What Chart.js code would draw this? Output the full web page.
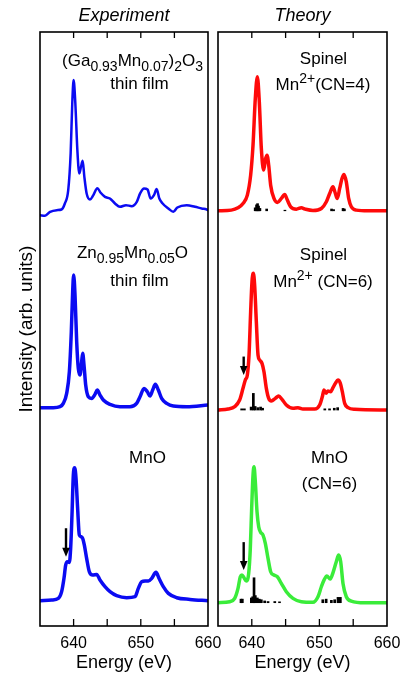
<!DOCTYPE html>
<html><head><meta charset="utf-8">
<script src="https://cdn.jsdelivr.net/npm/chart.js@4.4.1/dist/chart.umd.min.js"></script>
<style>
html,body{margin:0;padding:0;background:#fff;}
#wrap{position:relative;width:402px;height:675px;overflow:hidden;background:#fff;}
#cL{position:absolute;left:0;top:0;width:232px;height:675px;}
#cR{position:absolute;left:210px;top:0;width:201px;height:675px;}
</style></head><body>
<div id="wrap"><canvas id="cL" width="232" height="675"></canvas><canvas id="cR" width="201" height="675"></canvas></div>
<script>
// ---------- DATA ----------
const xTickLabels = [640, 650, 660];
const xMinorTicks = [640, 645, 650, 655];

// Experiment: (Ga0.93Mn0.07)2O3 thin film
const expGaE = [635.0,635.74,636.5,637.5,638.2,638.7,639.2,639.56,639.8,640.0,640.26,640.56,640.85,641.1,641.35,641.6,641.94,642.44,642.94,643.53,644.03,644.67,645.4,646.16,646.9,647.8,648.64,649.4,649.9,650.48,651.0,651.47,651.96,652.36,652.76,653.25,654.1,654.84,655.44,656.83,658.07,659.06,659.8,660.0];
const expGaI = [0.017,0.006,0.073,0.101,0.112,0.213,0.438,1.055,1.897,2.29,1.897,1.111,0.718,0.831,0.932,0.662,0.382,0.281,0.354,0.471,0.393,0.325,0.297,0.213,0.157,0.185,0.168,0.241,0.382,0.466,0.449,0.297,0.354,0.455,0.297,0.213,0.129,0.073,0.146,0.185,0.157,0.129,0.112,0.101];
// Experiment: Zn0.95Mn0.05O thin film
const expZnE = [635,636.98,637.98,638.47,638.97,639.37,639.66,639.86,640.01,640.21,640.46,640.7,640.95,641.2,641.35,641.55,641.8,642.19,642.69,643.18,643.53,643.93,644.42,645.42,646.9,648.39,649.38,649.88,650.48,650.97,651.37,651.77,652.16,652.61,653.1,653.85,654.84,656.83,660];
const expZnI = [0,0,0.017,0.073,0.241,0.606,1.279,1.953,2.233,1.897,1.111,0.662,0.55,0.774,0.915,0.718,0.382,0.185,0.157,0.224,0.297,0.213,0.129,0.056,0.017,0.017,0.073,0.185,0.325,0.269,0.196,0.297,0.393,0.297,0.157,0.073,0.028,0.017,0.045];
// Experiment: MnO
const expMnOE = [635,636.74,637.73,638.22,638.57,638.82,639.07,639.37,639.56,639.76,639.96,640.16,640.36,640.6,640.85,641.1,641.35,641.6,641.94,642.34,642.84,643.43,643.93,644.67,645.42,646.41,647.9,649.14,649.63,650.13,650.63,651.12,651.62,652.26,652.76,653.35,654.1,655.34,657.32,660];
const expMnOI = [0,0.011,0.039,0.152,0.376,0.6,0.657,0.645,0.881,1.442,2.116,2.239,2.059,1.554,1.105,1.077,1.049,0.937,0.713,0.488,0.432,0.443,0.348,0.236,0.152,0.084,0.05,0.067,0.208,0.32,0.331,0.331,0.376,0.477,0.365,0.236,0.123,0.05,0.022,0];
const expOffsets = [6.90, 3.675, 0.426];

// Theory: Spinel Mn2+ (CN=4)
const thSp4E = [635,636.97,637.96,638.7,639.34,639.83,640.18,640.52,640.82,641.11,641.41,641.76,642.05,642.25,642.5,642.79,643.28,643.78,644.37,644.86,645.26,645.75,646.59,647.33,647.92,649.05,650.29,651.03,651.52,652.01,652.36,652.65,653.0,653.34,653.64,653.98,654.33,654.72,655.46,657.19,660];
const thSp4I = [0,0.011,0.05,0.123,0.264,0.6,1.105,1.891,2.256,1.835,1.049,0.685,0.881,0.937,0.769,0.432,0.208,0.14,0.208,0.275,0.18,0.067,0.028,0.05,0.028,0.006,0.039,0.152,0.292,0.404,0.292,0.208,0.376,0.544,0.612,0.488,0.208,0.067,0.011,0,0];
// Theory: Spinel Mn2+ (CN=6)
const thSp6E = [635,636.48,637.47,638.2,638.7,639.04,639.34,639.59,639.83,640.03,640.23,640.42,640.67,640.92,641.16,641.51,641.8,642.15,642.5,642.89,643.48,643.97,644.47,645.11,646.09,646.83,647.57,649.3,650.04,650.43,650.68,650.98,651.27,651.67,652.01,652.36,652.75,653.1,653.39,653.74,654.23,655.22,660];
const thSp6I = [0,0.017,0.056,0.168,0.365,0.505,0.589,0.926,1.655,2.16,2.301,2.104,1.487,0.926,0.842,0.786,0.645,0.365,0.196,0.152,0.196,0.236,0.18,0.084,0.028,0.039,0.017,0.017,0.084,0.224,0.337,0.281,0.32,0.309,0.376,0.449,0.505,0.449,0.309,0.112,0.039,0.011,0];
// Theory: MnO (CN=6)
const thMnOE = [635,636.73,637.47,637.96,638.3,638.55,638.85,639.19,639.54,639.78,639.98,640.18,640.33,640.52,640.77,641.02,641.31,641.66,642.0,642.4,642.79,643.28,643.78,644.37,645.11,646.09,647.33,649.05,649.79,650.29,650.68,651.1,651.6,652.05,652.5,652.85,653.15,653.49,653.98,654.72,656.7,660];
const thMnOI = [0,0.017,0.073,0.241,0.438,0.466,0.421,0.365,0.494,0.915,1.588,2.149,2.29,2.037,1.532,1.279,1.184,1.139,0.999,0.746,0.522,0.466,0.438,0.325,0.185,0.073,0.017,0.006,0.101,0.269,0.38,0.45,0.40,0.52,0.69,0.802,0.69,0.325,0.101,0.028,0,0];
const thOffsets = [6.99, 3.636, 0.392];

// Stick (multiplet) spectra
const stSp4E = [640.5,640.7,640.85,641.0,641.2,642.2,644.9,651.8,652.1,653.5,653.7];
const stSp4H = [0.05,0.10,0.12,0.08,0.04,0.03,0.01,0.03,0.02,0.04,0.03];
const stSp6E = [638.5,638.9,639.9,640.23,640.5,640.9,641.3,641.6,650.8,651.5,652.2,652.7];
const stSp6H = [0.02,0.02,0.05,0.28,0.06,0.04,0.05,0.03,0.02,0.02,0.03,0.04];
const stMnOE = [638.4,638.6,639.93,640.13,640.33,640.52,640.82,641.11,641.41,641.9,642.4,643.4,644.1,650.5,651.0,651.77,652.26,652.75,653.1];
const stMnOH = [0.06,0.06,0.08,0.1,0.42,0.12,0.08,0.06,0.05,0.03,0.02,0.02,0.015,0.05,0.06,0.04,0.05,0.09,0.09];

// Arrows (energy, row, tail intensity, tip intensity)
const expArrowE = [638.87], expArrowRow = [2], expArrowTail = [1.22], expArrowTip = [0.74];
const thArrowE = [638.8, 638.8], thArrowRow = [1, 2], thArrowTail = [0.90, 1.02], thArrowTip = [0.59, 0.55];

// ---------- DRAWING ----------
const FONT = "'Liberation Sans', Arial, Helvetica, sans-serif";
Chart.defaults.font.family = FONT;
Chart.defaults.color = '#000';
Chart.defaults.animation = false;

const curve = (E, I, off) => E.map((e, i) => ({x: e, y: I[i] + off}));
const sticks = (E, H, off) => E.map((e, i) => ({x: e, y: [off, off + H[i]]}));
const arrows = (E, R, T, P, offs) => E.map((e, i) => ({e, tail: T[i] + offs[R[i]], tip: P[i] + offs[R[i]]}));

const framePlugin = {
  id: 'frame',
  afterDraw(chart) {
    const {ctx, chartArea: a, scales: {x}} = chart;
    ctx.save();
    ctx.strokeStyle = '#000';
    ctx.lineWidth = 1.6;
    ctx.strokeRect(a.left, a.top, a.right - a.left, a.bottom - a.top);
    ctx.lineWidth = 1.3;
    xMinorTicks.forEach(v => {
      const px = x.getPixelForValue(v);
      ctx.beginPath();
      ctx.moveTo(px, a.top); ctx.lineTo(px, a.top + 6);
      ctx.moveTo(px, a.bottom); ctx.lineTo(px, a.bottom - 7);
      ctx.stroke();
    });
    ctx.restore();
  }
};
const arrowPlugin = {
  id: 'arrows',
  afterDatasetsDraw(chart, args, opts) {
    const {ctx, scales: {x, y}} = chart;
    ctx.save();
    ctx.fillStyle = '#000'; ctx.strokeStyle = '#000'; ctx.lineWidth = 2.4;
    (opts.list || []).forEach(a => {
      const px = x.getPixelForValue(a.e), y0 = y.getPixelForValue(a.tail), y1 = y.getPixelForValue(a.tip);
      const head = 9;
      ctx.beginPath(); ctx.moveTo(px, y0); ctx.lineTo(px, y1 - head + 1); ctx.stroke();
      ctx.beginPath(); ctx.moveTo(px - 3.8, y1 - head); ctx.lineTo(px + 3.8, y1 - head); ctx.lineTo(px, y1); ctx.closePath(); ctx.fill();
    });
    ctx.restore();
  }
};
const labelPlugin = {
  id: 'plabels',
  afterDraw(chart, args, opts) {
    const {ctx, chartArea: a} = chart;
    ctx.save();
    ctx.fillStyle = '#000'; ctx.textBaseline = 'alphabetic'; ctx.textAlign = 'left';
    (opts.lines || []).forEach(L => {
      let w = 0;
      const parts = L.runs.map(r => {
        const t = r[0], k = r[1] || 0, size = k ? 14 : 17;
        ctx.font = size + 'px ' + FONT;
        const tw = ctx.measureText(t).width; w += tw;
        return {t, k, size, tw};
      });
      let xx = a.left + L.cx - w / 2;
      const yy = a.top + L.base;
      parts.forEach(p => {
        ctx.font = p.size + 'px ' + FONT;
        ctx.fillText(p.t, xx, yy + (p.k === 1 ? 5 : p.k === 2 ? -7 : 0));
        xx += p.tw;
      });
    });
    ctx.restore();
  }
};

function xScale() {
  return {
    type: 'linear', min: 635, max: 660, offset: false,
    grid: {display: false, drawTicks: false, offset: false}, border: {display: false},
    ticks: {stepSize: 5, autoSkip: false, maxRotation: 0, minRotation: 0, padding: 8, font: {size: 16}, color: '#000',
      callback: v => xTickLabels.includes(v) ? String(v) : ''},
    title: {display: true, text: 'Energy (eV)', font: {size: 18}, padding: {top: 0, bottom: 1}, color: '#000'},
    afterFit(s) { s.height = 49; }
  };
}
const lineDs = (data, color, w) => ({type: 'line', data, borderColor: color, borderWidth: w, pointRadius: 0,
  cubicInterpolationMode: 'monotone', fill: false, order: 1, borderJoinStyle: 'round', borderCapStyle: 'round'});
const barDs = (data) => ({type: 'bar', data, backgroundColor: '#000', borderWidth: 0, barThickness: 2, grouped: false, order: 0});

const BLUE = '#0b0bf2', RED = '#ff0a0a', GREEN = '#3aec3a';

new Chart(document.getElementById('cL'), {
  type: 'line',
  data: {datasets: [
    lineDs(curve(expGaE, expGaI, expOffsets[0]), BLUE, 2.5),
    lineDs(curve(expZnE, expZnI, expOffsets[1]), BLUE, 3.5),
    lineDs(curve(expMnOE, expMnOI, expOffsets[2]), BLUE, 3.5)
  ]},
  options: {
    responsive: false, animation: false, events: [],
    layout: {padding: {left: 0, right: 24, top: 0, bottom: 0}},
    scales: {
      x: xScale(),
      y: {min: 0, max: 10, beginAtZero: true, grid: {display: false}, border: {display: false}, ticks: {display: false},
        title: {display: true, text: 'Intensity (arb. units)', font: {size: 19}, padding: {top: 15, bottom: 0}, color: '#000'},
        afterFit(s) { s.width = 40; }}
    },
    plugins: {
      legend: {display: false}, tooltip: {enabled: false},
      title: {display: true, text: 'Experiment', font: {size: 18, style: 'italic', weight: 'normal'}, padding: {top: 5.5, bottom: 4.9}, fullSize: false, color: '#000'},
      arrows: {list: arrows(expArrowE, expArrowRow, expArrowTail, expArrowTip, expOffsets)},
      plabels: {lines: [
        {cx: 92.5, base: 34, runs: [['(Ga'], ['0.93', 1], ['Mn'], ['0.07', 1], [')'], ['2', 1], ['O'], ['3', 1]]},
        {cx: 99.5, base: 57, runs: [['thin film']]},
        {cx: 92.5, base: 226, runs: [['Zn'], ['0.95', 1], ['Mn'], ['0.05', 1], ['O']]},
        {cx: 99.5, base: 254, runs: [['thin film']]},
        {cx: 107.5, base: 431, runs: [['MnO']]}
      ]}
    }
  },
  plugins: [framePlugin, arrowPlugin, labelPlugin]
});

new Chart(document.getElementById('cR'), {
  type: 'line',
  data: {datasets: [
    lineDs(curve(thSp4E, thSp4I, thOffsets[0]), RED, 3.5),
    lineDs(curve(thSp6E, thSp6I, thOffsets[1]), RED, 3.5),
    lineDs(curve(thMnOE, thMnOI, thOffsets[2]), GREEN, 3.5),
    barDs(sticks(stSp4E, stSp4H, thOffsets[0])),
    barDs(sticks(stSp6E, stSp6H, thOffsets[1])),
    barDs(sticks(stMnOE, stMnOH, thOffsets[2]))
  ]},
  options: {
    responsive: false, animation: false, events: [],
    layout: {padding: {left: 8, right: 24, top: 0, bottom: 0}},
    scales: {
      x: xScale(),
      y: {min: 0, max: 10, display: false, beginAtZero: true}
    },
    plugins: {
      legend: {display: false}, tooltip: {enabled: false},
      title: {display: true, text: 'Theory', font: {size: 18, style: 'italic', weight: 'normal'}, padding: {top: 5.5, bottom: 4.9}, fullSize: false, color: '#000'},
      arrows: {list: arrows(thArrowE, thArrowRow, thArrowTail, thArrowTip, thOffsets)},
      plabels: {lines: [
        {cx: 105.5, base: 32, runs: [['Spinel']]},
        {cx: 105, base: 58, runs: [['Mn'], ['2+', 2], ['(CN=4)']]},
        {cx: 105.5, base: 228, runs: [['Spinel']]},
        {cx: 105, base: 255, runs: [['Mn'], ['2+', 2], [' (CN=6)']]},
        {cx: 111.5, base: 431, runs: [['MnO']]},
        {cx: 111.5, base: 457, runs: [['(CN=6)']]}
      ]}
    }
  },
  plugins: [framePlugin, arrowPlugin, labelPlugin]
});
</script></body></html>
